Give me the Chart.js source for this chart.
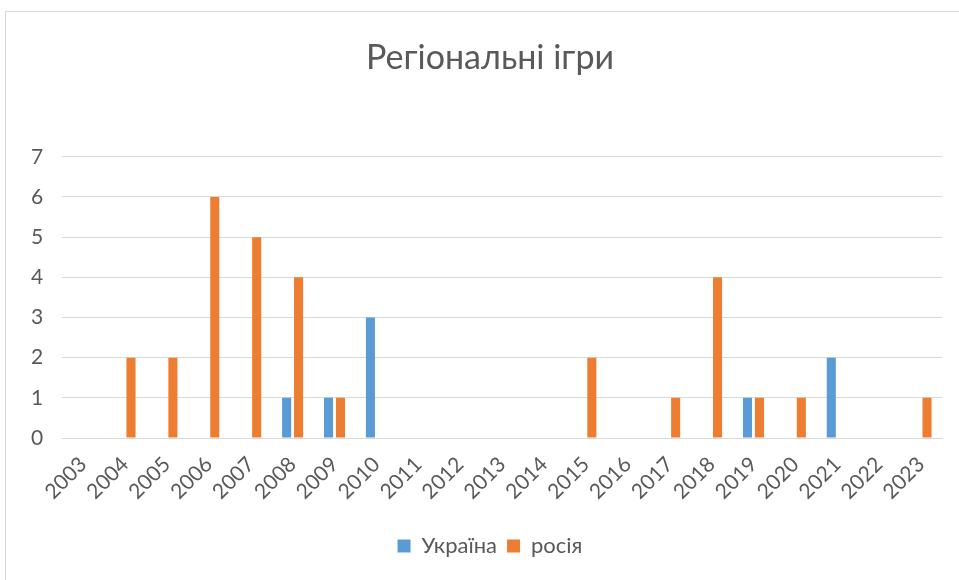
<!DOCTYPE html>
<html>
<head>
<meta charset="utf-8">
<script src="https://cdn.jsdelivr.net/npm/chart.js@4"></script>
<style>
    html, body { margin: 0; padding: 0; background: #fff; overflow: hidden; }
    #wrap { position: relative; width: 959px; height: 580px; overflow: hidden; }
    #frame { position: absolute; left: 5px; top: 11px; width: 1000px; height: 1000px; border: 1px solid #d9d9d9; }
    canvas { position: absolute; left: 0; top: 0; }
</style>
</head>
<body>
<div id="wrap">
    <div id="frame"></div>
    <canvas id="gamesChart" width="968" height="580"></canvas>
</div>
<script>
const years = ['2003', '2004', '2005', '2006', '2007', '2008', '2009', '2010', '2011', '2012', '2013',
    '2014', '2015', '2016', '2017', '2018', '2019', '2020', '2021', '2022', '2023'];
const ukraine = [null, null, null, null, null, 1, 1, 3, null, null, null, null, null, null, null, null, 1, null, 2, null, null];
const russia = [null, 2, 2, 6, 5, 4, 1, null, null, null, null, null, 2, null, 1, 4, 1, 1, null, null, 1];
const yTicks = [0, 1, 2, 3, 4, 5, 6, 7];

const fontFamily = 'Lato, "Open Sans", sans-serif';
const textColor = '#595959';

const ctx = document.getElementById('gamesChart').getContext('2d');
new Chart(ctx, {
    type: 'bar',
    data: {
        labels: years,
        datasets: [
            {
                label: 'Україна',
                data: ukraine,
                backgroundColor: '#5b9bd5',
                categoryPercentage: 0.57,
                barPercentage: 0.76
            },
            {
                label: 'росія',
                data: russia,
                backgroundColor: '#ed7d31',
                categoryPercentage: 0.57,
                barPercentage: 0.76
            }
        ]
    },
    options: {
        responsive: false,
        animation: false,
        layout: {
            padding: { left: 12, right: 0, top: 38, bottom: 13 }
        },
        plugins: {
            title: {
                display: true,
                text: 'Регіональні ігри',
                color: textColor,
                font: { family: fontFamily, size: 34, weight: 'normal' },
                padding: { top: 0, bottom: 78 }
            },
            legend: {
                position: 'bottom',
                labels: {
                    color: textColor,
                    font: { family: fontFamily, size: 22 },
                    boxWidth: 13,
                    boxHeight: 13,
                    padding: 10
                }
            },
            tooltip: { enabled: false }
        },
        scales: {
            x: {
                grid: { display: false },
                border: { display: true, color: '#d9d9d9' },
                afterFit: axis => { axis.height = 87; },
                ticks: {
                    color: textColor,
                    font: { family: fontFamily, size: 21 },
                    minRotation: 45,
                    maxRotation: 45,
                    autoSkip: false,
                    padding: 6
                }
            },
            y: {
                min: 0,
                max: 7,
                afterBuildTicks: axis => { axis.ticks = yTicks.map(v => ({ value: v })); },
                grid: { color: '#d9d9d9', drawTicks: false },
                border: { display: false },
                ticks: {
                    color: textColor,
                    font: { family: fontFamily, size: 21 },
                    padding: 19
                }
            },
            // empty right-hand axis, only keeps the plot clear of the right margin
            yRight: {
                position: 'right',
                display: true,
                grid: { display: false },
                border: { display: false },
                ticks: { display: false },
                afterFit: axis => { axis.width = 26; }
            }
        }
    }
});
</script>
</body>
</html>
